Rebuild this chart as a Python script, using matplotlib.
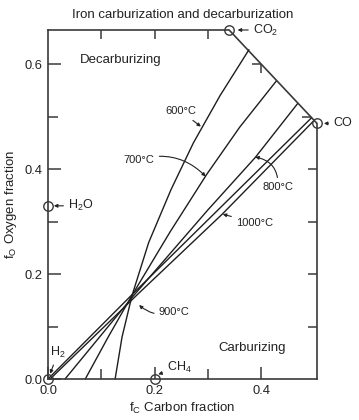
import numpy as np
import matplotlib
matplotlib.use('Agg')
import matplotlib.pyplot as plt
from matplotlib.lines import TICKLEFT, TICKDOWN

plt.rcParams['font.family'] = ['Liberation Sans', 'DejaVu Sans']
plt.rcParams['mathtext.fontset'] = 'custom'
plt.rcParams['mathtext.rm'] = 'Liberation Sans'

# ---------------- data ----------------
species = ['H$_2$', 'CH$_4$', 'H$_2$O', 'CO', 'CO$_2$']
species_fC = [0.0, 0.2, 0.0, 0.505, 0.34]
species_fO = [0.0, 0.0, 0.33, 0.487, 0.665]

temps = ['600°C', '700°C', '800°C', '900°C', '1000°C']
fC_600 = [0.126, 0.139, 0.158, 0.189, 0.231, 0.273, 0.323, 0.377]
fO_600 = [0.0, 0.08, 0.16, 0.26, 0.361, 0.45, 0.54, 0.627]
fC_700 = [0.070, 0.113, 0.158, 0.229, 0.298, 0.360, 0.428]
fO_700 = [0.0, 0.08, 0.16, 0.28, 0.39, 0.48, 0.567]
fC_800 = [0.032, 0.160, 0.300, 0.389, 0.468]
fO_800 = [0.0, 0.158, 0.322, 0.422, 0.524]
fC_900 = [0.0, 0.160, 0.330, 0.494]
fO_900 = [0.0, 0.163, 0.333, 0.497]
fC_1000 = [0.004, 0.170, 0.327, 0.497]
fO_1000 = [0.0, 0.163, 0.314, 0.490]

x_major = [0.0, 0.2, 0.4]
x_minor = [0.1, 0.3]
y_major = [0.0, 0.2, 0.4, 0.6]
y_minor = [0.1, 0.3, 0.5]

# ---------------- figure ----------------
fig = plt.figure(figsize=(3.59, 4.20), dpi=100)
ax = fig.add_axes([48/359, 1-379/420, (317-48)/359, (379-30)/420])
frame_c = '#3a3a3a'
line_c = '#1e1e1e'
text_c = '#222222'

ax.set_xlim(0, 0.505)
ax.set_ylim(0, 0.665)
for s in ['top', 'right']:
    ax.spines[s].set_visible(False)
for s in ['left', 'bottom']:
    ax.spines[s].set_color(frame_c)
    ax.spines[s].set_linewidth(1.2)

ax.set_xticks(x_major)
ax.set_xticks(x_minor, minor=True)
ax.set_yticks(y_major)
ax.set_yticks(y_minor, minor=True)
ax.xaxis.set_major_formatter(matplotlib.ticker.FormatStrFormatter('%.1f'))
ax.yaxis.set_major_formatter(matplotlib.ticker.FormatStrFormatter('%.1f'))
ax.tick_params(which='both', direction='in', color=frame_c, width=1.1,
               labelsize=9.3, labelcolor=text_c, pad=4)
ax.tick_params(which='major', length=9)
ax.tick_params(which='minor', length=7)

# boundary frame: top line, CO2-CO diagonal, right line
co2 = (species_fC[4], species_fO[4])
co = (species_fC[3], species_fO[3])
ax.plot([0, co2[0], co[0], co[0]], [co2[1], co2[1], co[1], 0],
        color=frame_c, lw=1.2, clip_on=False, solid_joinstyle='miter')


def diag_y(x):
    return co2[1] + (x - co2[0]) * (co[1] - co2[1]) / (co[0] - co2[0])


def diag_x(y):
    return co2[0] + (y - co2[1]) * (co[0] - co2[0]) / (co[1] - co2[1])


top_ticks = [0.1, 0.2, 0.3]
for xv in top_ticks:
    ax.plot([xv], [co2[1]], ls='none', marker=TICKDOWN, ms=6.5, mew=1.1,
            color=frame_c, clip_on=False)
ax.plot([0.4], [diag_y(0.4)], ls='none', marker=TICKDOWN, ms=6.5, mew=1.1,
        color=frame_c, clip_on=False)
right_ticks = [0.1, 0.2, 0.3, 0.4]
for yv in right_ticks:
    ax.plot([co[0]], [yv], ls='none', marker=TICKLEFT, ms=6.5, mew=1.1,
            color=frame_c, clip_on=False)
for yv in [0.5, 0.6]:
    ax.plot([diag_x(yv)], [yv], ls='none', marker=TICKLEFT, ms=6.5, mew=1.1,
            color=frame_c, clip_on=False)

# equilibrium curves
curves = [(fC_600, fO_600), (fC_700, fO_700), (fC_800, fO_800),
          (fC_900, fO_900), (fC_1000, fO_1000)]
for xs, ys in curves:
    ax.plot(xs, ys, color=line_c, lw=1.0, clip_on=False,
            solid_joinstyle='round')

# species markers
ax.plot(species_fC, species_fO, ls='none', marker='o', ms=6.8,
        mfc='none', mec=frame_c, mew=1.0, clip_on=False, zorder=5)

apr = dict(arrowstyle='-|>', mutation_scale=5, lw=0.8, color=text_c,
           shrinkA=1.5, shrinkB=0)

# species labels
sp_text = [(0.019, 0.050), (0.223, 0.022), (0.038, 0.33), (0.535, 0.487), (0.385, 0.665)]
sp_tip = [(0.004, 0.010), (0.207, 0.009), (0.011, 0.33), (0.518, 0.487), (0.356, 0.665)]
sp_ha = ['center', 'left', 'left', 'left', 'left']
for name, tpos, tip, ha in zip(species, sp_text, sp_tip, sp_ha):
    ax.annotate(name, xy=tip, xytext=tpos, ha=ha, va='center', fontsize=9,
                color=text_c, arrowprops=apr, annotation_clip=False)

# temperature labels
t_text = [(0.250, 0.510), (0.171, 0.418), (0.431, 0.365), (0.237, 0.128), (0.388, 0.298)]
t_tip = [(0.287, 0.481), (0.296, 0.386), (0.389, 0.423), (0.171, 0.141), (0.328, 0.314)]
t_rad = [0.0, -0.3, 0.45, -0.3, 0.0]
for name, tpos, tip, rad in zip(temps, t_text, t_tip, t_rad):
    p = dict(apr)
    p['connectionstyle'] = 'arc3,rad=%g' % rad
    ax.annotate(name, xy=tip, xytext=tpos, ha='center', va='center', fontsize=8,
                color=text_c, arrowprops=p)

ax.text(0.06, 0.608, 'Decarburizing', fontsize=9.5, color=text_c, va='center')
ax.text(0.319, 0.059, 'Carburizing', fontsize=9.5, color=text_c, va='center')

ax.set_title('Iron carburization and decarburization', fontsize=9.5,
             color=text_c, pad=9)
ax.set_xlabel(r'f$_\mathregular{C}$ Carbon fraction', fontsize=9.5, color=text_c, labelpad=3)
ax.set_ylabel(r'f$_\mathregular{O}$ Oxygen fraction', fontsize=9.5, color=text_c, labelpad=4)

fig.savefig('out.png', dpi=100)
